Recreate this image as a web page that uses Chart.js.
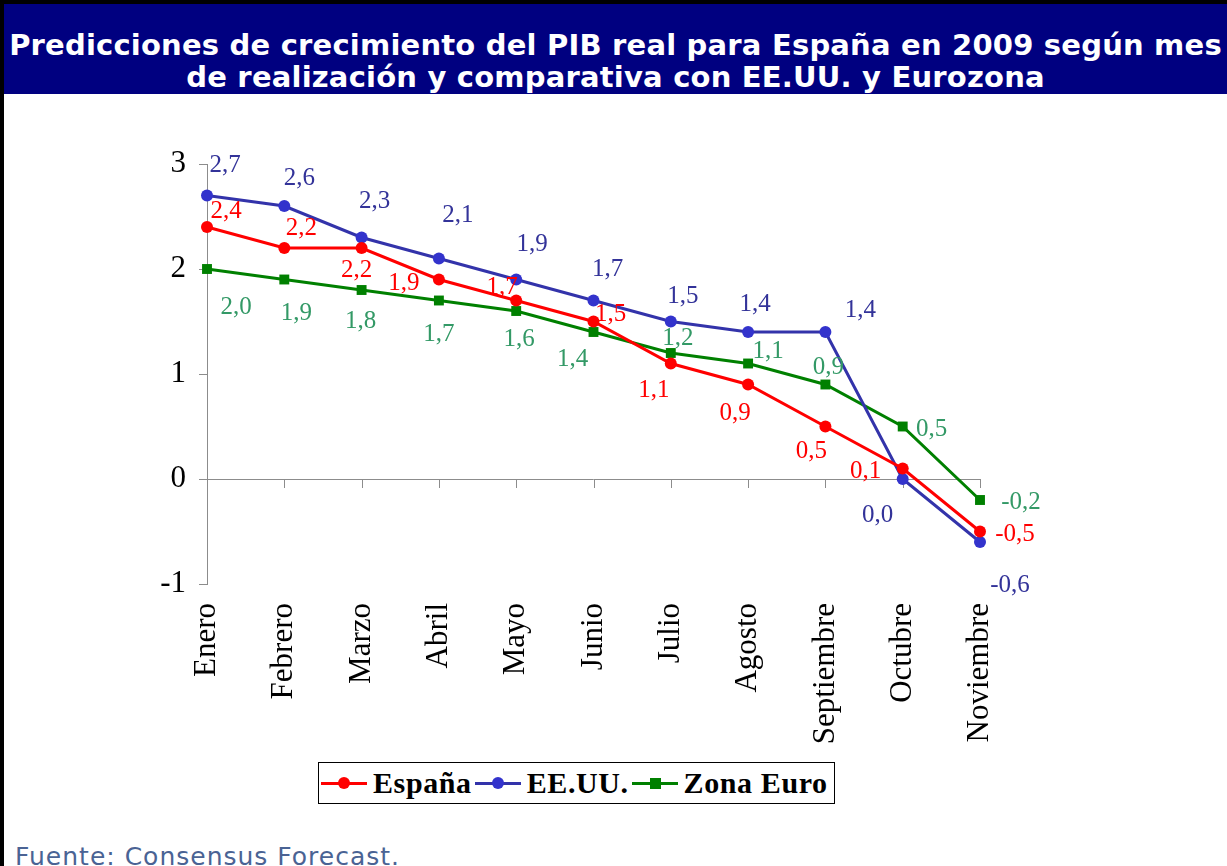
<!DOCTYPE html>
<html>
<head>
<meta charset="utf-8">
<script src="https://cdn.jsdelivr.net/npm/chart.js@4"></script>
<style>
  body { margin:0; width:1227px; height:866px; overflow:hidden; background:#fff; position:relative; }
  #marco { position:absolute; left:0; top:0; width:1227px; height:866px; border-top:4px solid #000; border-left:4px solid #000; box-sizing:border-box; }
  #titulo { position:absolute; left:4px; top:4px; width:1223px; height:90px; background:#000080; color:#fff;
    font:bold 29px "DejaVu Sans", Verdana, sans-serif; letter-spacing:0.2px; text-align:center; line-height:32px; padding-top:25px; box-sizing:border-box; white-space:nowrap; }
  #grafico { position:absolute; left:0; top:100px; width:1227px; height:660px; }
  #leyenda { position:absolute; left:318px; top:762px; width:517px; height:42px; border:1px solid #000; box-sizing:border-box;
    font:bold 30px "Liberation Serif", "Times New Roman", serif; letter-spacing:0.6px; display:flex; align-items:center; padding-left:2px; }
  .item { display:flex; align-items:center; margin-right:3px; }
  .linea { position:relative; width:46px; height:3px; margin-right:6px; }
  .marca { position:absolute; left:17px; top:-5px; width:12px; height:12px; border-radius:50%; }
  #fuente { position:absolute; left:15px; top:842px; font:25px "DejaVu Sans", Verdana, sans-serif; letter-spacing:1px; color:#4a6394; white-space:nowrap; }
</style>
</head>
<body>
<div id="marco"></div>
<div id="titulo">Predicciones de crecimiento del PIB real para España en 2009 según mes<br>de realización y comparativa con EE.UU. y Eurozona</div>
<div id="grafico"><canvas id="MyChart" width="1227" height="660"></canvas></div>
<div id="leyenda">
  <div class="item"><div class="linea" style="background:#ff0000"><div class="marca" style="background:#ff0000"></div></div>España</div>
  <div class="item"><div class="linea" style="background:#3333aa"><div class="marca" style="background:#3333cc"></div></div>EE.UU.</div>
  <div class="item"><div class="linea" style="background:#008000"><div class="marca" style="background:#008000;border-radius:0;left:18px;top:-4px;width:11px;height:11px"></div></div>Zona Euro</div>
</div>
<div id="fuente">Fuente: Consensus Forecast.</div>
<script>
// meses en que se hizo la prediccion
const mes = ['Enero','Febrero','Marzo','Abril','Mayo','Junio','Julio','Agosto','Septiembre','Octubre','Noviembre']
const espana = [2.4, 2.2, 2.2, 1.9, 1.7, 1.5, 1.1, 0.9, 0.5, 0.1, -0.5]
const eeuu = [2.7, 2.6, 2.3, 2.1, 1.9, 1.7, 1.5, 1.4, 1.4, 0.0, -0.6]
const zonaEuro = [2.0, 1.9, 1.8, 1.7, 1.6, 1.4, 1.2, 1.1, 0.9, 0.5, -0.2]
const ticksY = [-1, 0, 1, 2, 3]

// donde va cada etiqueta respecto a su punto (px)
const posEspana = [[19,-16],[17,-20],[-5,22],[-35,4],[-14,-13],[17,-7],[-17,27],[-13,29],[-14,25],[-37,3],[35,3]]
const posEeuu = [[18,-30],[15,-28],[13,-36],[19,-43],[16,-35],[14,-31],[12,-25],[7,-28],[35,-22],[-25,36],[30,43]]
const posZona = [[29,38],[12,34],[-1,31],[0,34],[3,28],[-21,27],[7,-15],[20,-12],[3,-17],[29,3],[41,2]]

const etiquetas = {
  id: 'etiquetas',
  beforeDatasetsDraw(chart) {
    // linea del cero con sus marcas
    const c = chart.ctx, x = chart.scales.x, y = chart.scales.y
    const y0 = y.getPixelForValue(0)
    c.save()
    c.strokeStyle = '#8c8c8c'
    c.lineWidth = 1
    c.beginPath()
    c.moveTo(chart.chartArea.left, y0 + 0.5)
    c.lineTo(chart.chartArea.right, y0 + 0.5)
    for (let i = 1; i < mes.length; i++) {
      const px = Math.round(x.getPixelForValue(i)) + 0.5
      c.moveTo(px, y0)
      c.lineTo(px, y0 + 9)
    }
    c.stroke()
    c.restore()
  },
  afterDatasetsDraw(chart) {
    const c = chart.ctx
    const pos = [posEspana, posEeuu, posZona]
    const colores = ['#ff0000', '#333399', '#339966']
    c.save()
    c.font = '25px "Liberation Serif", "Times New Roman", serif'
    c.textAlign = 'center'
    c.textBaseline = 'middle'
    chart.data.datasets.forEach((ds, d) => {
      chart.getDatasetMeta(d).data.forEach((p, i) => {
        const txt = ds.data[i].toFixed(1).replace('.', ',')
        c.fillStyle = colores[d]
        c.fillText(txt, p.x + pos[d][i][0], p.y + pos[d][i][1])
      })
    })
    c.restore()
  }
}

const serif = '"Liberation Serif", "Times New Roman", serif'

new Chart(document.getElementById('MyChart'), {
  type: 'line',
  data: {
    labels: mes,
    datasets: [
      { label: 'España', data: espana, borderColor: '#ff0000', backgroundColor: '#ff0000', borderWidth: 3, pointRadius: 6, pointBorderWidth: 0 },
      { label: 'EE.UU.', data: eeuu, borderColor: '#3333aa', backgroundColor: '#3333cc', borderWidth: 3, pointRadius: 6, pointBorderWidth: 0 },
      { label: 'Zona Euro', data: zonaEuro, borderColor: '#008000', backgroundColor: '#008000', borderWidth: 3, pointStyle: 'rect', pointRadius: 7, pointBorderWidth: 0 }
    ]
  },
  options: {
    responsive: false,
    animation: false,
    layout: { padding: { top: 64, right: 247, left: 0, bottom: 0 } },
    plugins: { legend: { display: false }, tooltip: { enabled: false } },
    scales: {
      x: {
        offset: false,
        grid: { display: false, drawTicks: false },
        border: { display: false },
        ticks: { minRotation: 90, maxRotation: 90, padding: 19, color: '#000', font: { family: serif, size: 31 } },
        afterFit(s) { s.height = 176 }
      },
      y: {
        min: -1, max: 3,
        afterBuildTicks(s) { s.ticks = ticksY.map(v => ({ value: v })) },
        grid: { drawOnChartArea: false, tickLength: 8, color: '#8c8c8c' },
        border: { color: '#8c8c8c' },
        ticks: { padding: 13, color: '#000', font: { family: serif, size: 31 } },
        afterFit(s) { s.width = 207 }
      }
    }
  },
  plugins: [etiquetas]
})
</script>
</body>
</html>
